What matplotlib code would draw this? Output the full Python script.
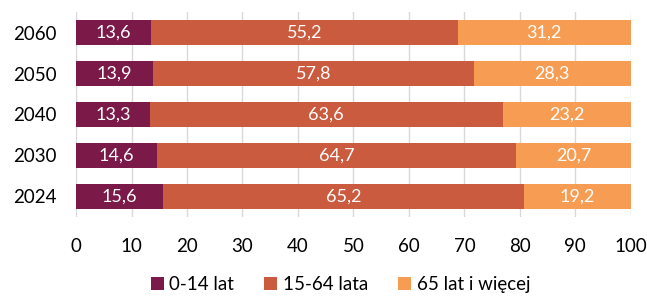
import matplotlib
matplotlib.use("Agg")
import matplotlib.pyplot as plt
import numpy as np

years = ["2024", "2030", "2040", "2050", "2060"]
age_0_14 = [15.6, 14.6, 13.3, 13.9, 13.6]
age_15_64 = [65.2, 64.7, 63.6, 57.8, 55.2]
age_65 = [19.2, 20.7, 23.2, 28.3, 31.2]
series_names = ["0-14 lat", "15-64 lata", "65 lat i więcej"]
colors = ["#7b1a48", "#cb5b3f", "#f79d53"]

plt.rcParams['font.family'] = ['Lato', 'DejaVu Sans']

fig = plt.figure(figsize=(6.47, 3.02), dpi=100)
ax = fig.add_axes([0.1175, 0.282, 0.8575, 0.678])

y = np.arange(len(years))
left = np.zeros(len(years))
for vals, name, col in zip([age_0_14, age_15_64, age_65], series_names, colors):
    vals = np.array(vals)
    ax.barh(y, vals, left=left, height=0.6, color=col, label=name, zorder=3)
    for yi, l, v in zip(y, left, vals):
        ax.text(l + v / 2, yi, f"{v:.1f}".replace(".", ","), ha="center", va="center",
                color="white", fontsize=13, zorder=4)
    left += vals

ax.set_xlim(0, 100)
ax.set_ylim(-0.5, 4.5)
ax.set_yticks(y)
ax.set_yticklabels(years, fontsize=13.5)
ax.set_xticks(np.arange(0, 101, 10))
ax.tick_params(axis='x', labelsize=13.5, length=0, pad=15)
ax.tick_params(axis='y', length=0, pad=14)
ax.grid(axis='x', color='#d9d9d9', linewidth=1, zorder=0)
for s in ax.spines.values():
    s.set_visible(False)

ax.legend(loc='center', bbox_to_anchor=(0.477, -0.33), ncol=3, frameon=False,
          fontsize=13.5, handlelength=0.7, handleheight=0.7, handletextpad=0.3,
          columnspacing=1.6, borderpad=0)

fig.savefig("out.png", dpi=100)
